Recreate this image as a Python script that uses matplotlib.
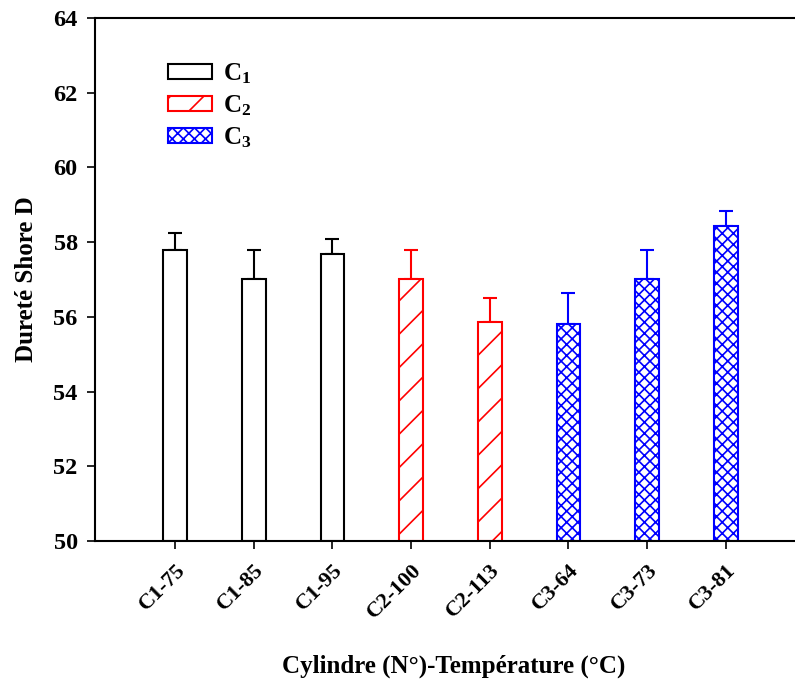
import matplotlib
matplotlib.use('Agg')
import matplotlib.pyplot as plt
import matplotlib.transforms as mtransforms
import numpy as np

plt.rcParams['font.family'] = ['Liberation Serif', 'DejaVu Serif']
plt.rcParams['font.weight'] = 'bold'
plt.rcParams['mathtext.fontset'] = 'custom'
plt.rcParams['mathtext.rm'] = 'Liberation Serif'
plt.rcParams['mathtext.bf'] = 'Liberation Serif:bold'
plt.rcParams['hatch.linewidth'] = 1.2

# data
labels = ['C1-75', 'C1-85', 'C1-95', 'C2-100', 'C2-113', 'C3-64', 'C3-73', 'C3-81']
hardness = [57.79, 57.01, 57.68, 57.01, 55.86, 55.81, 57.01, 58.43]
errors = [0.45, 0.78, 0.40, 0.78, 0.64, 0.83, 0.78, 0.40]
groups = [0, 0, 0, 1, 1, 2, 2, 2]
group_names = [r'$\mathbf{C_1}$', r'$\mathbf{C_2}$', r'$\mathbf{C_3}$']
group_colors = ['black', 'red', 'blue']
group_hatch = ['', '/', 'xxx']

fig = plt.figure(figsize=(7.95, 6.82), dpi=100)
# the plot area runs a little past the right edge of the figure
ax = fig.add_axes([0.1195, 0.2067, 0.9031, 0.7669])

x = np.arange(len(labels))
for g in range(3):
    idx = [i for i in range(len(labels)) if groups[i] == g]
    ax.bar(x[idx], [hardness[i] - 50 for i in idx], bottom=50, width=0.3,
           facecolor='white', edgecolor=group_colors[g], hatch=group_hatch[g],
           linewidth=1.5, label=group_names[g], zorder=2)
    ax.errorbar(x[idx], [hardness[i] for i in idx],
                yerr=[[0] * len(idx), [errors[i] for i in idx]],
                fmt='none', ecolor=group_colors[g], elinewidth=1.5,
                capsize=5, capthick=1.5, zorder=1)

ax.set_xlim(-1.017, 8.107)
ax.set_ylim(50, 64)
ax.set_yticks(np.arange(50, 65, 2))
ax.set_xticks(x)
ax.set_xticklabels(labels, rotation=45, ha='right', rotation_mode='anchor',
                   fontsize=16, fontweight='bold')
shift = mtransforms.ScaledTranslation(5 / 72, 0, fig.dpi_scale_trans)
for lab in ax.get_xticklabels():
    lab.set_transform(lab.get_transform() + shift)
ax.tick_params(axis='y', labelsize=17.5, direction='out', length=6, width=1.2, pad=6.5)
ax.tick_params(axis='x', direction='out', length=6, width=1.2, pad=8)
for lab in ax.get_yticklabels():
    lab.set_fontweight('bold')

ax.spines['right'].set_visible(False)
for s in ['left', 'bottom', 'top']:
    ax.spines[s].set_linewidth(1.5)

ax.set_ylabel('Dureté Shore D', fontsize=18, fontweight='bold', labelpad=11)
ax.set_xlabel('Cylindre (N°)-Température (°C)', fontsize=18, fontweight='bold', labelpad=23)

ax.legend(loc='upper left', bbox_to_anchor=(0.07, 0.96), frameon=False,
          fontsize=18, handlelength=1.76, handleheight=0.56, labelspacing=0.29,
          handletextpad=0.45)

fig.savefig('out.png', dpi=100)
